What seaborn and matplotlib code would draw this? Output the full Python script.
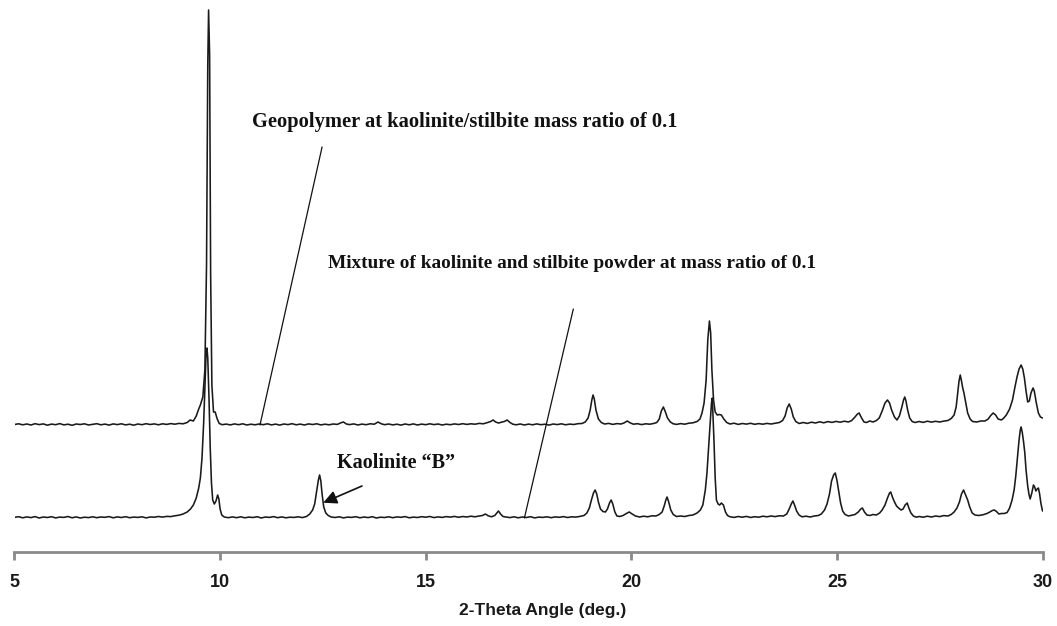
import matplotlib
matplotlib.use("Agg")
import matplotlib.pyplot as plt
import seaborn as sns
import pandas as pd

# XRD scans: (2-theta in degrees, intensity in arbitrary units above each scan's own baseline)
geopolymer_scan = [
    (5.0, 0.5), (5.1, 1.2), (5.2, 0.2), (5.3, 1.0), (5.4, 0.0), (5.5, 1.3), (5.6, 0.4), (5.7, 1.1),
    (5.8, -0.2), (5.9, 0.9), (6.0, 0.3), (6.1, 1.4), (6.2, 0.1), (6.3, 0.8), (6.4, -0.3), (6.5, 1.0),
    (6.6, 0.5), (6.7, 1.2), (6.8, 0.0), (6.9, 0.7), (7.0, 1.3), (7.1, 0.2), (7.2, 0.9), (7.3, -0.1),
    (7.4, 1.1), (7.5, 0.4), (7.6, 1.2), (7.7, 0.1), (7.8, 0.8), (7.9, -0.2), (8.0, 1.0), (8.1, 0.3),
    (8.2, 1.3), (8.3, 0.5), (8.4, 1.1), (8.5, 0.2), (8.6, 1.2), (8.7, 0.6), (8.8, 1.4), (8.9, 0.8),
    (9.0, 1.6), (9.1, 1.2), (9.2, 2.5), (9.27, 5.0), (9.35, 4.0), (9.42, 9.0), (9.48, 16.0),
    (9.52, 20.0), (9.58, 28.0), (9.63, 55.0), (9.67, 160.0), (9.70, 360.0), (9.72, 415.0),
    (9.745, 370.0), (9.77, 150.0), (9.80, 40.0), (9.84, 13.0), (9.88, 13.0), (9.93, 6.0),
    (9.98, 1.5), (10.05, 0.3), (10.15, 0.9), (10.25, 0.1), (10.35, 1.1), (10.45, 0.3), (10.55, 1.2),
    (10.65, 0.0), (10.75, 0.8), (10.85, 0.2), (10.95, 1.0), (11.05, 0.3), (11.15, 1.2), (11.25, 0.1),
    (11.35, 0.9), (11.45, -0.1), (11.55, 1.0), (11.65, 0.4), (11.75, 1.3), (11.85, 0.2), (11.95, 0.9),
    (12.05, 0.0), (12.15, 1.1), (12.25, 0.5), (12.35, 1.2), (12.45, 0.1), (12.55, 0.8), (12.65, 0.2),
    (12.75, 1.0), (12.85, 0.6), (12.95, 2.4), (13.0, 3.0), (13.07, 1.0), (13.15, 0.4), (13.25, 1.1),
    (13.35, 0.0), (13.45, 0.9), (13.55, 0.3), (13.65, 1.2), (13.75, 0.8), (13.84, 3.0), (13.92, 1.2),
    (14.0, 0.3), (14.1, 1.0), (14.2, 0.1), (14.3, 0.8), (14.4, -0.1), (14.5, 1.0), (14.6, 0.2),
    (14.7, 1.1), (14.8, 0.0), (14.9, 0.9), (15.0, 0.3), (15.1, 1.2), (15.2, 0.4), (15.3, 1.0),
    (15.4, 0.0), (15.5, 0.8), (15.6, 0.3), (15.7, 1.1), (15.8, 0.5), (15.9, 1.3), (16.0, 0.6),
    (16.1, 1.2), (16.2, 0.8), (16.3, 1.6), (16.4, 1.2), (16.5, 2.4), (16.58, 3.5), (16.64, 5.0),
    (16.7, 3.0), (16.77, 2.0), (16.85, 2.8), (16.92, 3.6), (16.98, 5.0), (17.05, 2.5), (17.12, 0.8),
    (17.2, 0.2), (17.3, 1.0), (17.4, 0.0), (17.5, 0.9), (17.6, 0.2), (17.7, 1.1), (17.8, 0.3),
    (17.9, 0.8), (18.0, -0.1), (18.1, 1.0), (18.2, 0.4), (18.3, 1.2), (18.4, 0.2), (18.5, 0.9),
    (18.6, 0.5), (18.7, 1.3), (18.8, 1.5), (18.88, 3.0), (18.95, 7.0), (19.0, 15.0), (19.04, 25.0),
    (19.07, 30.0), (19.1, 26.0), (19.14, 15.0), (19.2, 6.0), (19.27, 2.5), (19.35, 1.0), (19.45, 1.6),
    (19.55, 0.6), (19.65, 1.4), (19.75, 1.0), (19.82, 2.0), (19.9, 4.0), (19.97, 2.2), (20.05, 0.8),
    (20.15, 1.3), (20.25, 0.4), (20.35, 1.2), (20.45, 0.8), (20.55, 1.6), (20.62, 2.5), (20.68, 6.0),
    (20.73, 14.0), (20.78, 18.0), (20.83, 13.0), (20.88, 7.0), (20.95, 3.0), (21.02, 1.2), (21.1, 0.6),
    (21.2, 1.4), (21.3, 0.8), (21.4, 1.8), (21.5, 2.2), (21.6, 3.5), (21.67, 6.0), (21.72, 12.0),
    (21.77, 22.0), (21.82, 45.0), (21.86, 85.0), (21.9, 104.0), (21.93, 92.0), (21.96, 55.0),
    (22.0, 25.0), (22.04, 13.0), (22.09, 10.0), (22.14, 10.5), (22.19, 10.0), (22.25, 6.0),
    (22.32, 2.5), (22.4, 1.0), (22.5, 1.8), (22.6, 0.6), (22.7, 1.5), (22.8, 0.9), (22.9, 1.7),
    (23.0, 0.7), (23.1, 1.4), (23.2, 0.8), (23.3, 1.6), (23.4, 1.0), (23.5, 1.8), (23.6, 2.5),
    (23.68, 4.5), (23.74, 9.0), (23.79, 17.0), (23.84, 21.0), (23.89, 16.0), (23.94, 8.0),
    (24.0, 3.5), (24.08, 1.5), (24.18, 2.5), (24.28, 1.6), (24.38, 2.8), (24.48, 2.0), (24.58, 3.2),
    (24.68, 2.2), (24.78, 3.4), (24.88, 2.6), (24.98, 3.6), (25.08, 2.8), (25.18, 3.8), (25.28, 3.0),
    (25.36, 4.5), (25.44, 8.0), (25.5, 11.0), (25.54, 12.0), (25.6, 7.0), (25.66, 3.0), (25.72, 2.5),
    (25.8, 4.0), (25.88, 3.0), (25.96, 4.5), (26.03, 7.0), (26.1, 14.0), (26.17, 22.0), (26.23, 25.0),
    (26.28, 22.0), (26.33, 15.0), (26.4, 8.0), (26.46, 5.0), (26.52, 9.0), (26.58, 18.0),
    (26.62, 25.0), (26.65, 28.0), (26.68, 24.0), (26.72, 15.0), (26.77, 7.0), (26.83, 3.5),
    (26.9, 2.5), (27.0, 3.5), (27.1, 2.6), (27.2, 3.8), (27.3, 2.9), (27.4, 3.7), (27.5, 3.0),
    (27.6, 3.9), (27.7, 4.5), (27.78, 6.5), (27.85, 10.0), (27.9, 18.0), (27.94, 33.0), (27.97, 44.0),
    (28.0, 50.0), (28.03, 44.0), (28.06, 37.0), (28.09, 32.0), (28.13, 23.0), (28.18, 12.0),
    (28.24, 6.0), (28.3, 3.5), (28.4, 3.0), (28.5, 4.0), (28.6, 4.0), (28.68, 6.0), (28.74, 9.5),
    (28.8, 12.0), (28.86, 10.0), (28.92, 6.0), (29.0, 5.0), (29.06, 7.0), (29.12, 10.0), (29.2, 16.0),
    (29.27, 25.0), (29.33, 38.0), (29.38, 48.0), (29.43, 56.0), (29.48, 60.0), (29.52, 56.0),
    (29.56, 47.0), (29.6, 34.0), (29.64, 23.0), (29.68, 24.0), (29.72, 32.0), (29.77, 37.0),
    (29.8, 34.0), (29.85, 22.0), (29.9, 12.0), (29.95, 8.0), (30.0, 7.0),
]

mixture_scan = [
    (5.0, 0.6), (5.1, 1.3), (5.2, 0.2), (5.3, 1.1), (5.4, 0.4), (5.5, 1.4), (5.6, 0.0), (5.7, 1.0),
    (5.8, 0.5), (5.9, 1.3), (6.0, 0.1), (6.1, 0.9), (6.2, 0.6), (6.3, 1.5), (6.4, 0.2), (6.5, 1.1),
    (6.6, 0.0), (6.7, 0.8), (6.8, 0.4), (6.9, 1.2), (7.0, 0.3), (7.1, 1.0), (7.2, 0.7), (7.3, 1.4),
    (7.4, 0.2), (7.5, 1.1), (7.6, 0.5), (7.7, 1.3), (7.8, 0.3), (7.9, 0.9), (8.0, 0.6), (8.1, 1.2),
    (8.2, 0.1), (8.3, 1.0), (8.4, 0.8), (8.5, 1.5), (8.6, 0.9), (8.7, 1.6), (8.8, 1.4), (8.9, 2.2),
    (9.0, 2.8), (9.1, 4.0), (9.2, 6.0), (9.28, 9.0), (9.35, 13.0), (9.42, 20.0), (9.48, 30.0),
    (9.52, 40.0), (9.56, 60.0), (9.6, 95.0), (9.63, 130.0), (9.66, 165.0), (9.68, 170.0),
    (9.7, 160.0), (9.73, 120.0), (9.76, 70.0), (9.79, 35.0), (9.82, 18.0), (9.86, 14.0), (9.9, 17.0),
    (9.94, 23.0), (9.97, 19.0), (10.0, 9.0), (10.04, 3.0), (10.1, 1.0), (10.2, 0.3), (10.3, 1.1),
    (10.4, 0.3), (10.5, 1.2), (10.6, 0.2), (10.7, 0.9), (10.8, 0.5), (10.9, 1.3), (11.0, 0.0),
    (11.1, 1.0), (11.2, 0.6), (11.3, 1.4), (11.4, 0.3), (11.5, 1.1), (11.6, 0.2), (11.7, 0.8),
    (11.8, 0.6), (11.9, 1.2), (12.0, 0.4), (12.1, 1.5), (12.18, 4.0), (12.25, 8.0), (12.3, 14.0),
    (12.35, 27.0), (12.39, 38.0), (12.42, 43.0), (12.45, 37.0), (12.48, 24.0), (12.52, 11.0),
    (12.57, 5.0), (12.63, 2.5), (12.7, 1.0), (12.8, 0.5), (12.9, 1.2), (13.0, 0.1), (13.1, 0.9),
    (13.2, 0.6), (13.3, 1.3), (13.4, 0.2), (13.5, 1.0), (13.6, 0.4), (13.7, 1.3), (13.8, 0.0),
    (13.9, 0.8), (14.0, 0.5), (14.1, 1.2), (14.2, 0.3), (14.3, 1.1), (14.4, 0.7), (14.5, 1.4),
    (14.6, 0.2), (14.7, 0.9), (14.8, 0.5), (14.9, 1.3), (15.0, 0.8), (15.1, 1.5), (15.2, 0.4),
    (15.3, 1.1), (15.4, 0.6), (15.5, 1.4), (15.6, 0.9), (15.7, 1.6), (15.8, 0.7), (15.9, 1.5),
    (16.0, 1.0), (16.1, 1.8), (16.2, 1.2), (16.3, 2.0), (16.38, 2.5), (16.45, 4.0), (16.52, 2.2),
    (16.6, 1.2), (16.68, 2.5), (16.73, 5.0), (16.77, 7.0), (16.82, 4.0), (16.88, 1.5), (16.95, 1.0),
    (17.05, 0.4), (17.15, 1.2), (17.25, 0.2), (17.35, 1.0), (17.45, 0.5), (17.55, 1.3), (17.65, 0.1),
    (17.75, 0.9), (17.85, 0.6), (17.95, 1.2), (18.05, 0.3), (18.15, 1.1), (18.25, 0.7), (18.35, 1.4),
    (18.45, 0.5), (18.55, 1.2), (18.65, 0.9), (18.75, 1.6), (18.85, 2.5), (18.92, 5.0), (18.98, 10.0),
    (19.03, 18.0), (19.08, 25.0), (19.12, 28.0), (19.16, 24.0), (19.2, 16.0), (19.25, 9.0),
    (19.31, 6.5), (19.37, 6.0), (19.42, 9.0), (19.47, 15.0), (19.51, 18.0), (19.55, 14.0), (19.6, 6.0),
    (19.65, 2.0), (19.72, 1.5), (19.8, 2.5), (19.88, 4.5), (19.95, 6.0), (20.02, 4.0), (20.1, 2.0),
    (20.2, 1.0), (20.3, 1.8), (20.4, 1.2), (20.5, 2.2), (20.6, 2.0), (20.68, 3.5), (20.75, 6.0),
    (20.8, 12.0), (20.84, 18.0), (20.87, 21.0), (20.91, 16.0), (20.96, 8.0), (21.02, 3.5), (21.1, 1.5),
    (21.2, 2.0), (21.3, 1.5), (21.4, 2.5), (21.5, 3.0), (21.6, 5.0), (21.68, 8.0), (21.74, 13.0),
    (21.8, 28.0), (21.84, 45.0), (21.88, 70.0), (21.92, 95.0), (21.95, 115.0), (21.97, 120.0),
    (21.99, 100.0), (22.01, 78.0), (22.04, 40.0), (22.07, 18.0), (22.11, 14.0), (22.15, 13.0),
    (22.19, 15.0), (22.24, 13.0), (22.29, 6.0), (22.34, 2.5), (22.4, 1.2), (22.5, 0.6), (22.6, 1.5),
    (22.7, 0.8), (22.8, 1.6), (22.9, 0.5), (23.0, 1.3), (23.1, 0.8), (23.2, 1.8), (23.3, 1.2),
    (23.4, 2.0), (23.5, 1.4), (23.6, 2.2), (23.7, 2.0), (23.78, 4.0), (23.84, 9.0), (23.89, 14.0),
    (23.93, 17.0), (23.97, 13.0), (24.02, 7.0), (24.08, 3.0), (24.15, 1.2), (24.25, 1.8),
    (24.35, 1.0), (24.45, 2.0), (24.55, 2.5), (24.62, 4.0), (24.7, 8.0), (24.76, 14.0), (24.82, 24.0),
    (24.87, 37.0), (24.92, 43.0), (24.96, 45.0), (25.0, 38.0), (25.04, 28.0), (25.09, 15.0),
    (25.14, 7.0), (25.2, 3.5), (25.28, 2.0), (25.36, 2.8), (25.44, 3.5), (25.52, 6.0), (25.58, 9.0),
    (25.62, 10.0), (25.67, 6.0), (25.73, 3.0), (25.8, 2.5), (25.88, 3.5), (25.96, 3.0), (26.04, 5.0),
    (26.1, 8.0), (26.17, 13.0), (26.23, 20.0), (26.28, 25.0), (26.31, 26.0), (26.35, 21.0),
    (26.39, 17.0), (26.45, 12.0), (26.5, 10.0), (26.56, 8.0), (26.61, 9.0), (26.66, 13.0),
    (26.71, 15.0), (26.75, 10.0), (26.8, 5.0), (26.86, 2.0), (26.93, 0.8), (27.0, 1.5), (27.1, 0.8),
    (27.2, 1.8), (27.3, 1.0), (27.4, 2.0), (27.5, 1.4), (27.6, 2.4), (27.7, 2.0), (27.78, 3.5),
    (27.85, 6.0), (27.92, 10.0), (27.98, 16.0), (28.03, 24.0), (28.08, 28.0), (28.13, 23.0),
    (28.18, 18.0), (28.23, 11.0), (28.29, 5.0), (28.36, 3.0), (28.45, 2.5), (28.55, 3.2),
    (28.65, 4.5), (28.72, 6.0), (28.78, 7.5), (28.83, 8.0), (28.88, 6.5), (28.94, 4.0), (29.0, 4.5),
    (29.07, 4.5), (29.14, 5.5), (29.2, 10.0), (29.26, 18.0), (29.31, 28.0), (29.35, 42.0),
    (29.39, 60.0), (29.43, 78.0), (29.46, 88.0), (29.48, 91.0), (29.51, 85.0), (29.54, 76.0),
    (29.57, 65.0), (29.6, 48.0), (29.64, 32.0), (29.67, 24.0), (29.7, 19.0), (29.74, 25.0),
    (29.78, 33.0), (29.81, 31.0), (29.84, 27.0), (29.87, 29.0), (29.9, 30.0), (29.93, 24.0),
    (29.96, 15.0), (30.0, 7.0),
]

# vertical stacking of the two scans
geopolymer_offset = 127
mixture_offset = 34

x_ticks = [5, 10, 15, 20, 25, 30]
x_label = "2-Theta Angle (deg.)"
geopolymer_label = "Geopolymer at kaolinite/stilbite mass ratio of 0.1"
mixture_label = "Mixture of kaolinite and stilbite powder at mass ratio of 0.1"
kaolinite_label = "Kaolinite \u201cB\u201d"

sns.set_theme(style="white")
plt.rcParams["font.family"] = ["Liberation Sans", "DejaVu Sans"]


def to_frame(scan, offset, name):
    tt, inten = zip(*scan)
    return pd.DataFrame({"two_theta": tt,
                         "intensity": [v + offset for v in inten],
                         "sample": name})


data = pd.concat([
    to_frame(geopolymer_scan, geopolymer_offset, "geopolymer"),
    to_frame(mixture_scan, mixture_offset, "mixture"),
], ignore_index=True)

W, H = 1057, 626
fig = plt.figure(figsize=(W / 100, H / 100), dpi=100)
ax = fig.add_axes([14.5 / W, 1 - 552 / H, 1028 / W, 552 / H])
ax.patch.set_alpha(0)

sns.lineplot(data=data, x="two_theta", y="intensity", units="sample",
             estimator=None, sort=False, color="#1a1a1a", linewidth=1.15, ax=ax)

ax.set_xlim(5, 30)
ax.set_ylim(0, 552)
ax.set_xticks(x_ticks)
ax.set_xticklabels([str(t) for t in x_ticks], fontsize=13, fontweight="bold")
ax.set_yticks([])
ax.set_xlabel("")
ax.set_ylabel("")
for side in ("left", "top", "right"):
    ax.spines[side].set_visible(False)
ax.spines["bottom"].set_color("#8a8a8a")
ax.spines["bottom"].set_linewidth(2.0)
ax.tick_params(axis="x", direction="out", length=6, width=2, color="#8a8a8a",
               pad=10, bottom=True, labelcolor="#1a1a1a")

fig.text(543 / W, 1 - 610 / H, x_label, ha="center", va="center",
         fontsize=12.5, fontweight="bold", color="#1a1a1a")

serif = ["Liberation Serif", "DejaVu Serif"]
ax.text(15.95, 430, geopolymer_label, ha="center", va="center",
        family=serif, fontweight="bold", fontsize=14.8, color="#111111")
ax.text(18.55, 289, mixture_label, ha="center", va="center",
        family=serif, fontweight="bold", fontsize=13.9, color="#111111")
ax.text(14.28, 89, kaolinite_label, ha="center", va="center",
        family=serif, fontweight="bold", fontsize=14.5, color="#111111")

# leader lines from the labels down to their scans
ax.plot([12.48, 10.97], [405, geopolymer_offset], color="#111111", linewidth=0.9)
ax.plot([18.59, 17.40], [243, mixture_offset], color="#111111", linewidth=0.9)
ax.annotate("", xy=(12.51, 49.3), xytext=(13.45, 66),
            arrowprops=dict(arrowstyle="-|>", color="#111111", linewidth=1.2,
                            mutation_scale=20, shrinkA=0, shrinkB=0))

fig.savefig("out.png", dpi=100)
